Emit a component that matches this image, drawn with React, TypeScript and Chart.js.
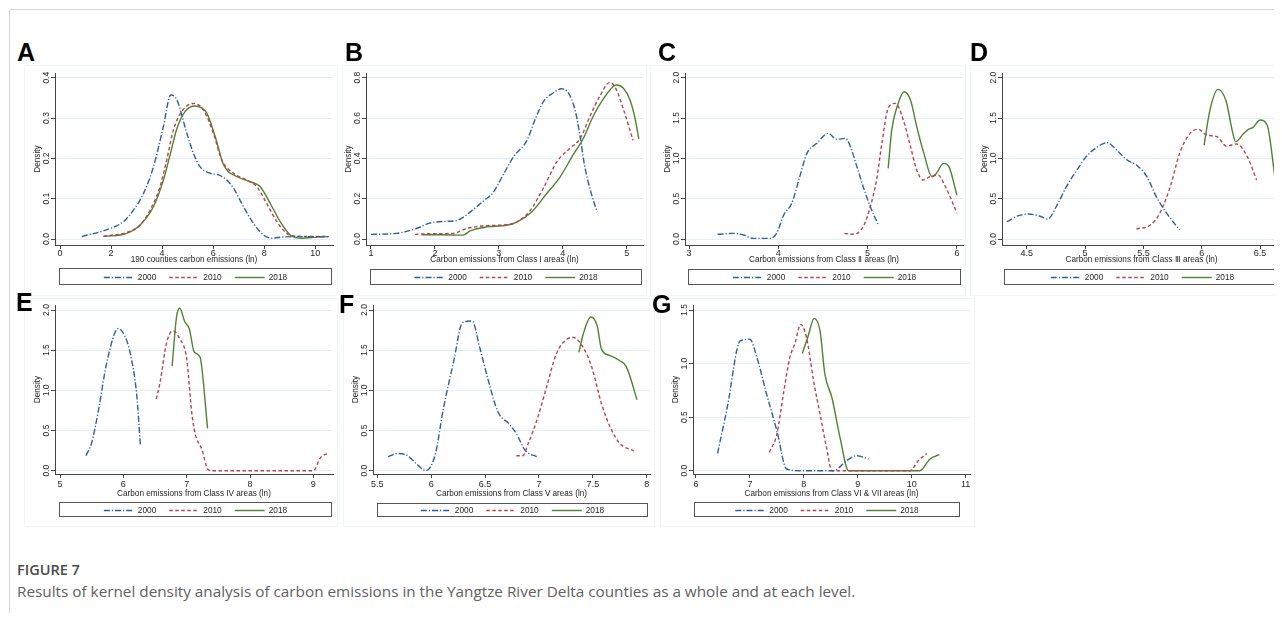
import React, { useEffect, useRef } from 'react';
import { Chart, registerables } from 'chart.js';
Chart.register(...registerables);

// ---------- shared ----------
const SERIES_LABELS = ['2000', '2010', '2018'];
const SERIES_COLORS = ['#2f5f9a', '#b8434f', '#4f8232'];
const SERIES_DASH = [[6, 2, 1.2, 2], [3.5, 2.5], []];
const Y_TITLE = 'Density';

// ---------- Panel A ----------
const A_X_TICKS = [0, 2, 4, 6, 8, 10];
const A_Y_TICKS = [0, 0.1, 0.2, 0.3, 0.4];
const A_2000 = [[0.85, 0.006], [1.96, 0.026], [2.48, 0.043], [2.88, 0.072], [3.27, 0.113], [3.66, 0.179], [4.05, 0.279], [4.34, 0.357], [4.58, 0.345], [4.97, 0.262], [5.23, 0.212], [5.49, 0.179], [5.88, 0.163], [6.21, 0.159], [6.54, 0.146], [6.8, 0.126], [7.19, 0.08], [7.58, 0.039], [7.97, 0.01], [8.3, 0.002], [8.76, 0.005], [9.41, 0.006], [10.52, 0.006]];
const A_2010 = [[1.7, 0.007], [2.61, 0.016], [3.14, 0.035], [3.53, 0.072], [3.92, 0.13], [4.18, 0.196], [4.44, 0.27], [4.77, 0.316], [5.23, 0.336], [5.62, 0.32], [6.01, 0.262], [6.34, 0.196], [6.8, 0.163], [7.32, 0.146], [7.71, 0.13], [8.1, 0.088], [8.5, 0.043], [8.89, 0.014], [9.28, 0.007], [10.52, 0.006]];
const A_2018 = [[1.7, 0.006], [2.61, 0.014], [3.14, 0.035], [3.66, 0.08], [4.05, 0.146], [4.31, 0.208], [4.58, 0.274], [4.9, 0.316], [5.29, 0.33], [5.75, 0.312], [6.08, 0.254], [6.41, 0.184], [6.93, 0.155], [7.45, 0.142], [7.84, 0.13], [8.24, 0.088], [8.63, 0.043], [9.02, 0.01], [9.48, 0.002], [9.93, 0.004], [10.52, 0.006]];

// ---------- Panel B ----------
const B_X_TICKS = [1, 2, 3, 4, 5];
const B_Y_TICKS = [0, 0.2, 0.4, 0.6, 0.8];
const B_2000 = [[1.0, 0.023], [1.4, 0.028], [1.71, 0.052], [1.92, 0.079], [2.13, 0.087], [2.34, 0.092], [2.55, 0.133], [2.76, 0.189], [2.91, 0.23], [3.07, 0.319], [3.23, 0.408], [3.44, 0.489], [3.57, 0.594], [3.7, 0.683], [3.85, 0.724], [3.98, 0.745], [4.09, 0.724], [4.19, 0.643], [4.27, 0.513], [4.34, 0.368], [4.45, 0.222], [4.54, 0.133]];
const B_2010 = [[1.69, 0.023], [1.92, 0.026], [2.29, 0.028], [2.5, 0.052], [2.81, 0.066], [3.12, 0.071], [3.28, 0.084], [3.49, 0.141], [3.7, 0.254], [3.91, 0.384], [4.11, 0.449], [4.27, 0.497], [4.43, 0.611], [4.58, 0.708], [4.74, 0.777], [4.84, 0.74], [4.95, 0.643], [5.1, 0.489]];
const B_2018 = [[1.79, 0.021], [2.08, 0.021], [2.44, 0.019], [2.55, 0.04], [2.81, 0.06], [3.12, 0.068], [3.28, 0.084], [3.51, 0.133], [3.74, 0.222], [3.95, 0.303], [4.16, 0.416], [4.32, 0.497], [4.48, 0.611], [4.63, 0.692], [4.79, 0.756], [4.84, 0.764], [4.95, 0.748], [5.05, 0.692], [5.13, 0.6], [5.19, 0.497]];

// ---------- Panel C ----------
const C_X_TICKS = [3, 4, 5, 6];
const C_Y_TICKS = [0, 0.5, 1.0, 1.5, 2.0];
const C_2000 = [[3.32, 0.058], [3.5, 0.07], [3.61, 0.05], [3.72, 0.008], [3.91, 0.008], [3.98, 0.07], [4.06, 0.298], [4.15, 0.442], [4.24, 0.773], [4.32, 1.062], [4.43, 1.186], [4.56, 1.31], [4.65, 1.236], [4.75, 1.248], [4.8, 1.165], [4.88, 0.897], [4.95, 0.649], [5.03, 0.401], [5.12, 0.174]];
const C_2010 = [[4.74, 0.07], [4.84, 0.058], [4.95, 0.153], [5.03, 0.401], [5.1, 0.731], [5.16, 1.186], [5.23, 1.62], [5.31, 1.682], [5.4, 1.475], [5.48, 1.145], [5.55, 0.855], [5.62, 0.731], [5.7, 0.773], [5.79, 0.793], [5.87, 0.649], [5.94, 0.483], [6.0, 0.318]];
const C_2018 = [[5.23, 0.876], [5.27, 1.351], [5.33, 1.64], [5.41, 1.826], [5.48, 1.723], [5.55, 1.393], [5.63, 1.062], [5.72, 0.773], [5.77, 0.814], [5.85, 0.938], [5.91, 0.897], [6.0, 0.545]];

// ---------- Panel D ----------
const D_X_TICKS = [4.5, 5, 5.5, 6, 6.5];
const D_Y_TICKS = [0, 0.5, 1.0, 1.5, 2.0];
const D_2000 = [[4.33, 0.215], [4.43, 0.289], [4.51, 0.31], [4.6, 0.289], [4.68, 0.248], [4.76, 0.421], [4.84, 0.649], [4.93, 0.855], [5.01, 1.021], [5.1, 1.136], [5.19, 1.194], [5.27, 1.103], [5.36, 0.979], [5.44, 0.917], [5.53, 0.773], [5.61, 0.525], [5.7, 0.318], [5.81, 0.112]];
const D_2010 = [[5.44, 0.124], [5.56, 0.174], [5.64, 0.318], [5.73, 0.649], [5.81, 1.062], [5.9, 1.31], [5.97, 1.36], [6.04, 1.289], [6.13, 1.269], [6.21, 1.153], [6.3, 1.178], [6.39, 1.021], [6.47, 0.731]];
const D_2018 = [[6.02, 1.165], [6.07, 1.599], [6.14, 1.855], [6.21, 1.702], [6.26, 1.351], [6.29, 1.207], [6.36, 1.31], [6.4, 1.36], [6.44, 1.384], [6.5, 1.475], [6.56, 1.413], [6.63, 0.731]];

// ---------- Panel E ----------
const E_X_TICKS = [5, 6, 7, 8, 9];
const E_Y_TICKS = [0, 0.5, 1.0, 1.5, 2.0];
const E_2000 = [[5.41, 0.188], [5.5, 0.347], [5.61, 0.766], [5.74, 1.351], [5.92, 1.77], [6.03, 1.665], [6.11, 1.456], [6.21, 0.954], [6.27, 0.305]];
const E_2010 = [[6.52, 0.891], [6.58, 1.1], [6.68, 1.582], [6.78, 1.741], [6.89, 1.644], [7.0, 1.393], [7.08, 0.724], [7.13, 0.473], [7.24, 0.264], [7.34, 0.013], [7.42, 0.0], [9.0, 0.0], [9.11, 0.159], [9.24, 0.222]];
const E_2018 = [[6.77, 1.301], [6.84, 1.916], [6.89, 2.021], [6.97, 1.854], [7.04, 1.77], [7.12, 1.477], [7.21, 1.414], [7.33, 0.527]];

// ---------- Panel F ----------
const F_X_TICKS = [5.5, 6, 6.5, 7, 7.5, 8];
const F_Y_TICKS = [0, 0.5, 1.0, 1.5, 2.0];
const F_2000 = [[5.6, 0.173], [5.69, 0.214], [5.77, 0.194], [5.86, 0.091], [5.95, 0.0], [6.04, 0.214], [6.11, 0.751], [6.21, 1.369], [6.29, 1.843], [6.38, 1.864], [6.45, 1.534], [6.53, 1.122], [6.62, 0.73], [6.72, 0.586], [6.79, 0.462], [6.87, 0.256], [6.98, 0.173]];
const F_2010 = [[6.79, 0.186], [6.85, 0.186], [6.9, 0.338], [6.98, 0.627], [7.07, 1.039], [7.16, 1.452], [7.26, 1.637], [7.32, 1.658], [7.41, 1.534], [7.49, 1.287], [7.58, 0.833], [7.66, 0.544], [7.75, 0.338], [7.88, 0.247]];
const F_2018 = [[7.37, 1.472], [7.41, 1.699], [7.48, 1.913], [7.54, 1.802], [7.58, 1.513], [7.66, 1.431], [7.75, 1.369], [7.81, 1.295], [7.91, 0.882]];

// ---------- Panel G ----------
const G_X_TICKS = [6, 7, 8, 9, 10, 11];
const G_Y_TICKS = [0, 0.5, 1.0, 1.5];
const G_2000 = [[6.4, 0.161], [6.58, 0.59], [6.82, 1.211], [7.0, 1.227], [7.13, 1.056], [7.31, 0.714], [7.5, 0.373], [7.68, 0.016], [7.93, 0.0], [8.55, 0.0], [8.79, 0.093], [8.98, 0.14], [9.2, 0.109]];
const G_2010 = [[7.36, 0.171], [7.5, 0.342], [7.62, 0.714], [7.74, 1.056], [7.84, 1.196], [7.94, 1.366], [8.05, 1.242], [8.18, 0.839], [8.3, 0.528], [8.42, 0.217], [8.52, 0.0], [9.97, 0.0], [10.12, 0.093], [10.28, 0.161]];
const G_2018 = [[7.97, 1.093], [8.08, 1.258], [8.19, 1.422], [8.3, 1.304], [8.39, 0.901], [8.52, 0.683], [8.67, 0.311], [8.83, 0.0], [10.15, 0.0], [10.34, 0.109], [10.51, 0.149]];

// ---------- layout (page px) ----------
const TOP_ROW = { areaTop: 73, areaBottom: 245, zeroPx: 239, topPx: 77.7, xAxisH: 20, xTickPad: -1, region: [65, 296] };
const BOTTOM_ROW = { areaTop: 305, areaBottom: 474, zeroPx: 470.7, topPx: 310, xAxisH: 25, xTickPad: 1, region: [298, 527] };

type Spec = {
  letter: string; letterX: number; letterY: number;
  xTitle: string; xTicks: number[]; yTicks: number[];
  series: number[][][];
  row: typeof TOP_ROW;
  left: number; right: number; xMin: number; xMax: number;
  legend: [number, number, number, number];
  regionX: [number, number];
};

const PANELS: Spec[] = [
  { letter: 'A', letterX: 17, letterY: 43, xTitle: '190 counties carbon emissions (ln)', xTicks: A_X_TICKS, yTicks: A_Y_TICKS, series: [A_2000, A_2010, A_2018], row: TOP_ROW, left: 55, right: 333, xMin: -0.2, xMax: 10.7, legend: [59, 268, 332, 285], regionX: [24, 338] },
  { letter: 'B', letterX: 345, letterY: 43, xTitle: 'Carbon emissions from Class I areas (ln)', xTicks: B_X_TICKS, yTicks: B_Y_TICKS, series: [B_2000, B_2010, B_2018], row: TOP_ROW, left: 366, right: 643, xMin: 0.922, xMax: 5.256, legend: [370, 269, 642, 285], regionX: [342, 647] },
  { letter: 'C', letterX: 658, letterY: 43, xTitle: 'Carbon emissions from Class Ⅱ areas (ln)', xTicks: C_X_TICKS, yTicks: C_Y_TICKS, series: [C_2000, C_2010, C_2018], row: TOP_ROW, left: 685, right: 963, xMin: 2.955, xMax: 6.068, legend: [688, 269, 961, 285], regionX: [650, 966] },
  { letter: 'D', letterX: 970, letterY: 43, xTitle: 'Carbon emissions from Class Ⅲ areas (ln)', xTicks: D_X_TICKS, yTicks: D_Y_TICKS, series: [D_2000, D_2010, D_2018], row: TOP_ROW, left: 1002, right: 1281, xMin: 4.288, xMax: 6.679, legend: [1004, 269, 1281, 285], regionX: [970, 1290] },
  { letter: 'E', letterX: 16, letterY: 293, xTitle: 'Carbon emissions from Class IV areas (ln)', xTicks: E_X_TICKS, yTicks: E_Y_TICKS, series: [E_2000, E_2010, E_2018], row: BOTTOM_ROW, left: 55, right: 333, xMin: 4.921, xMax: 9.31, legend: [59, 502, 332, 517], regionX: [24, 338] },
  { letter: 'F', letterX: 339, letterY: 295, xTitle: 'Carbon emissions from Class Ⅴ areas (ln)', xTicks: F_X_TICKS, yTicks: F_Y_TICKS, series: [F_2000, F_2010, F_2018], row: BOTTOM_ROW, left: 373, right: 650, xMin: 5.46, xMax: 8.03, legend: [377, 503, 648, 517], regionX: [343, 655] },
  { letter: 'G', letterX: 652, letterY: 295, xTitle: 'Carbon emissions from Class VI & VII areas (ln)', xTicks: G_X_TICKS, yTicks: G_Y_TICKS, series: [G_2000, G_2010, G_2018], row: BOTTOM_ROW, left: 693, right: 970, xMin: 5.945, xMax: 11.08, legend: [694, 502, 960, 517], regionX: [660, 975] },
];

const FONT = '"Liberation Sans", Arial, sans-serif';
const TEXT = '#1e1e1e';
const AXIS = '#444';
const GRID = '#e2eef0';
const Y_AXIS_W = 35;

const stataLegend = {
  id: 'stataLegend',
  afterDraw(chart: any, _args: any, opts: any) {
    const { ctx } = chart;
    const [l, t, r, b] = opts.box;
    ctx.save();
    ctx.fillStyle = '#fff';
    ctx.fillRect(l, t, r - l, b - t);
    ctx.strokeStyle = '#555';
    ctx.lineWidth = 1;
    ctx.setLineDash([]);
    ctx.strokeRect(l + 0.5, t + 0.5, r - l - 1, b - t - 1);
    ctx.font = `8.3px ${FONT}`;
    const sample = 30, gap1 = 4, gap2 = 13;
    const items = chart.data.datasets.map((ds: any) => ({ text: ds.label, w: ctx.measureText(ds.label).width, color: ds.borderColor, dash: ds.borderDash, lw: ds.borderWidth }));
    const total = items.reduce((s: number, it: any) => s + sample + gap1 + it.w, 0) + gap2 * (items.length - 1);
    let x = (l + r) / 2 - total / 2;
    const cy = Math.round((t + b) / 2) + 0.5;
    items.forEach((it: any) => {
      ctx.beginPath();
      ctx.setLineDash(it.dash || []);
      ctx.strokeStyle = it.color;
      ctx.lineWidth = it.lw;
      ctx.moveTo(x, cy);
      ctx.lineTo(x + sample, cy);
      ctx.stroke();
      ctx.setLineDash([]);
      x += sample + gap1;
      ctx.fillStyle = TEXT;
      ctx.textBaseline = 'middle';
      ctx.textAlign = 'left';
      ctx.fillText(it.text, x, cy);
      x += it.w + gap2;
    });
    ctx.restore();
  },
};

function geometry(s: Spec) {
  const row = s.row;
  const cLeft = s.left - Y_AXIS_W;
  const cTop = row.areaTop - 6;
  const cRight = s.right + 6;
  const cBottom = s.legend[3] + 3;
  return { cLeft, cTop, w: cRight - cLeft, h: cBottom - cTop, cRight, cBottom };
}

function Panel({ spec }: { spec: Spec }) {
  const ref = useRef<HTMLCanvasElement>(null);
  const g = geometry(spec);
  useEffect(() => {
    const row = spec.row;
    const topVal = spec.yTicks[spec.yTicks.length - 1];
    const span = row.zeroPx - row.topPx;
    const yMin = -((row.areaBottom - row.zeroPx) / span) * topVal;
    const yMax = topVal + ((row.topPx - row.areaTop) / span) * topVal;
    const lg = spec.legend;
    const chart = new Chart(ref.current as HTMLCanvasElement, {
      type: 'line',
      data: {
        datasets: spec.series.map((pts, i) => ({
          label: SERIES_LABELS[i],
          data: pts.map(([x, y]) => ({ x, y })),
          borderColor: SERIES_COLORS[i],
          borderDash: SERIES_DASH[i],
          borderWidth: 1.4,
          pointRadius: 0,
          fill: false,
          cubicInterpolationMode: 'monotone',
        })),
      },
      plugins: [stataLegend],
      options: {
        responsive: false,
        maintainAspectRatio: false,
        animation: false,
        events: [],
        layout: {
          padding: {
            left: 0,
            top: row.areaTop - g.cTop,
            right: g.cRight - spec.right,
            bottom: g.cBottom - (row.areaBottom + row.xAxisH),
          },
        },
        plugins: {
          legend: { display: false },
          tooltip: { enabled: false },
          stataLegend: { box: [lg[0] - g.cLeft, lg[1] - g.cTop, lg[2] - g.cLeft, lg[3] - g.cTop] },
        } as any,
        scales: {
          x: {
            type: 'linear',
            min: spec.xMin,
            max: spec.xMax,
            afterBuildTicks: (sc: any) => { sc.ticks = spec.xTicks.map((v) => ({ value: v })); },
            afterFit: (sc: any) => { sc.height = row.xAxisH; sc.paddingLeft = 0; sc.paddingRight = 0; },
            ticks: { autoSkip: false, maxRotation: 0, minRotation: 0, padding: row.xTickPad, color: TEXT, font: { family: FONT, size: 9 }, callback: (v: any) => String(v) },
            grid: { drawOnChartArea: false, drawTicks: true, tickLength: 4, tickColor: AXIS, color: AXIS },
            border: { display: true, color: AXIS, width: 1 },
            title: { display: true, text: spec.xTitle, color: TEXT, font: { family: FONT, size: 8.2 }, padding: { top: 0, bottom: 0.2 } },
          },
          y: {
            type: 'linear',
            min: yMin,
            max: yMax,
            afterBuildTicks: (sc: any) => { sc.ticks = spec.yTicks.map((v) => ({ value: v })); },
            afterFit: (sc: any) => { sc.width = Y_AXIS_W; sc.paddingTop = 0; sc.paddingBottom = 0; },
            ticks: { autoSkip: false, minRotation: 90, maxRotation: 90, crossAlign: 'center', padding: -1.9, color: TEXT, font: { family: FONT, size: 8.5 }, callback: (v: any) => Number(v).toFixed(1) },
            grid: { color: GRID, lineWidth: 1, drawTicks: true, tickLength: 4, tickColor: AXIS },
            border: { display: true, color: AXIS, width: 1 },
            title: { display: true, text: Y_TITLE, color: TEXT, font: { family: FONT, size: 8.2 }, padding: { top: 13, bottom: 0 } },
          },
        },
      } as any,
    });
    return () => chart.destroy();
  }, []);
  return (
    <>
      <div style={{ position: 'absolute', left: spec.regionX[0], top: spec.row.region[0], width: spec.regionX[1] - spec.regionX[0], height: spec.row.region[1] - spec.row.region[0], border: '1px solid #f0f5f5', boxSizing: 'border-box' }} />
      <canvas ref={ref} width={g.w} height={g.h} style={{ position: 'absolute', left: g.cLeft, top: g.cTop, width: g.w, height: g.h }} />
      <div style={{ position: 'absolute', left: spec.letterX, top: spec.letterY - 3.3, font: `bold 25px ${FONT}`, lineHeight: '25px', color: '#000' }}>{spec.letter}</div>
    </>
  );
}

export default function App() {
  return (
    <div style={{ position: 'relative', margin: '-8px', width: 1282, height: 621, overflow: 'hidden', background: '#fff' }}>
      <div style={{ position: 'absolute', left: 9, top: 9, width: 1300, height: 700, borderTop: '1px solid #d4d4d4', borderLeft: '1px solid #d4d4d4' }} />
      {PANELS.map((p) => <Panel key={p.letter} spec={p} />)}
      <div style={{ position: 'absolute', left: 17, top: 560, fontFamily: '"Open Sans", sans-serif', fontWeight: 600, fontSize: 14.5, color: '#4a4a4a', lineHeight: '20px' }}>FIGURE 7</div>
      <div style={{ position: 'absolute', left: 17, top: 581, fontFamily: '"Open Sans", sans-serif', fontSize: 15.3, color: '#606060', lineHeight: '20px', whiteSpace: 'nowrap' }}>Results of kernel density analysis of carbon emissions in the Yangtze River Delta counties as a whole and at each level.</div>
    </div>
  );
}
